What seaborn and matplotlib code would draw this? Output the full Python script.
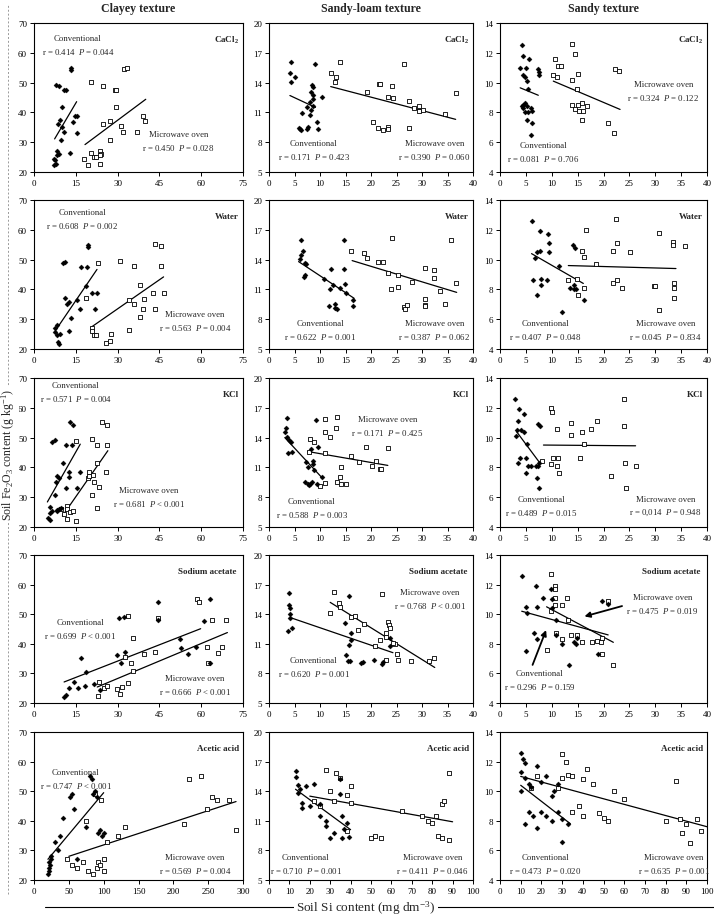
import matplotlib
matplotlib.use("Agg")
import matplotlib.pyplot as plt
from matplotlib.lines import Line2D
import seaborn as sns

# ---------------- data ----------------
COL_TITLES = ["Clayey texture", "Sandy-loam texture", "Sandy texture"]
EXTRACTANTS = ["CaCl$_\\mathbf{2}$", "Water", "KCl", "Sodium acetate", "Acetic acid"]

# Row 1 : CaCl2
CLAY_CACL2_CONV_X = [7.2, 7.8, 7.2, 8.1, 7.5, 9.0, 8.1, 7.8, 9.0, 10.8, 11.4, 10.2, 9.3, 8.6, 10.2, 10.8, 9.6, 13.2, 13.2, 14.6, 15.3, 14.1, 15.3, 12.9]
CLAY_CACL2_CONV_Y = [22.2, 22.8, 24.4, 25.6, 24.0, 26.0, 27.2, 49.1, 48.7, 47.6, 47.6, 41.7, 37.4, 36.1, 35.2, 33.3, 30.6, 55.0, 54.2, 38.7, 38.7, 36.9, 33.1, 26.3]
CLAY_CACL2_MW_X = [20.4, 24.6, 29.0, 29.6, 29.3, 27.3, 24.6, 31.1, 32.1, 36.9, 27.1, 39.2, 39.9, 32.3, 33.3, 18.0, 19.4, 20.4, 21.4, 22.2, 23.6, 24.0, 23.8, 23.6]
CLAY_CACL2_MW_Y = [50.2, 48.9, 47.6, 47.6, 41.7, 37.2, 36.1, 35.3, 33.3, 33.3, 30.8, 38.9, 37.0, 54.4, 55.0, 24.4, 22.2, 26.4, 25.0, 25.0, 27.2, 26.1, 25.6, 22.8]
CLAY_CACL2_CONV_LINE = [(7.4, 15.3), (31.1, 43.6)]
CLAY_CACL2_MW_LINE = [(18.3, 40.1), (29.2, 44.4)]

LOAM_CACL2_CONV_X = [4.4, 4.1, 5.1, 4.3, 9.1, 8.4, 8.7, 8.3, 8.6, 8.7, 10.4, 8.1, 7.4, 8.6, 8.3, 8.1, 6.4, 9.4, 9.7, 7.7, 7.5, 6.1, 6.2, 5.9]
LOAM_CACL2_CONV_Y = [16.1, 15.0, 14.6, 14.1, 15.9, 13.8, 13.6, 13.1, 12.8, 12.3, 12.6, 12.0, 11.5, 11.6, 11.2, 10.7, 10.9, 10.0, 9.3, 9.5, 9.3, 9.3, 9.2, 9.4]
LOAM_CACL2_MW_X = [12.1, 14.0, 13.2, 12.9, 19.3, 21.5, 21.8, 24.1, 23.3, 24.3, 26.4, 27.4, 28.4, 29.5, 29.5, 30.1, 34.6, 36.6, 20.3, 21.3, 22.3, 23.4, 23.4, 27.4]
LOAM_CACL2_MW_Y = [15.0, 16.1, 14.6, 14.1, 13.1, 13.9, 13.9, 13.7, 12.6, 12.4, 15.9, 12.1, 11.4, 11.6, 11.1, 11.2, 10.8, 13.0, 10.0, 9.4, 9.2, 9.5, 9.3, 9.4]
LOAM_CACL2_CONV_LINE = [(4.1, 9.1), (12.7, 11.5)]
LOAM_CACL2_MW_LINE = [(12.1, 36.6), (13.6, 10.3)]

SAND_CACL2_CONV_X = [4.2, 4.5, 5.7, 3.9, 5.0, 4.5, 4.8, 5.3, 7.4, 7.5, 7.6, 5.5, 4.5, 4.9, 5.3, 4.8, 5.5, 5.9, 6.1, 5.3, 6.1, 6.0, 4.5, 4.2]
SAND_CACL2_CONV_Y = [12.5, 11.8, 11.6, 11.0, 11.0, 10.5, 10.4, 10.1, 10.9, 10.7, 10.5, 9.6, 8.5, 8.6, 8.4, 8.0, 8.0, 8.3, 8.1, 7.5, 7.3, 6.5, 8.3, 8.4]
SAND_CACL2_MW_X = [14.0, 14.5, 10.6, 11.2, 11.8, 10.3, 11.1, 14.0, 15.0, 14.9, 22.3, 23.0, 14.0, 15.0, 15.9, 16.9, 14.5, 15.3, 16.1, 15.8, 20.9, 22.0]
SAND_CACL2_MW_Y = [12.6, 11.9, 11.6, 11.1, 11.1, 10.5, 10.4, 10.2, 10.6, 9.6, 10.9, 10.8, 8.5, 8.5, 8.6, 8.4, 8.2, 8.1, 8.1, 7.5, 7.3, 6.6]
SAND_CACL2_CONV_LINE = [(3.9, 7.4), (9.65, 9.15)]
SAND_CACL2_MW_LINE = [(10.3, 23.2), (10.1, 8.2)]

# Row 2 : Water
CLAY_WATER_CONV_X = [10.5, 11.3, 16.9, 19.1, 19.3, 19.4, 18.8, 20.9, 22.6, 11.3, 12.5, 11.9, 15.5, 16.4, 22.0, 13.3, 12.5, 7.7, 7.7, 8.1, 9.5, 8.6, 8.9, 8.3]
CLAY_WATER_CONV_Y = [48.7, 49.2, 47.5, 47.5, 54.8, 54.3, 41.3, 38.8, 38.8, 37.1, 35.7, 35.2, 36.6, 33.3, 33.3, 30.4, 26.2, 27.0, 25.8, 24.7, 25.1, 22.5, 21.7, 27.9]
CLAY_WATER_MW_X = [22.9, 30.7, 35.8, 45.5, 43.4, 45.6, 38.1, 39.6, 42.6, 46.5, 34.0, 35.8, 39.2, 43.4, 37.9, 34.2, 20.9, 20.9, 21.5, 22.3, 26.0, 27.4, 27.8, 18.8]
CLAY_WATER_MW_Y = [48.7, 49.4, 47.8, 47.9, 55.2, 54.5, 41.6, 36.9, 38.9, 38.9, 36.3, 35.2, 33.5, 33.5, 30.7, 26.5, 27.1, 26.2, 24.7, 24.7, 22.0, 22.8, 25.1, 37.2]
CLAY_WATER_CONV_LINE = [(7.7, 22.6), (26.2, 46.7)]
CLAY_WATER_MW_LINE = [(20.5, 46.5), (27.3, 44.2)]

LOAM_WATER_CONV_X = [6.3, 6.1, 6.3, 6.6, 7.1, 7.3, 7.1, 6.9, 10.7, 12.1, 11.9, 12.6, 13.9, 14.7, 14.8, 14.9, 15.1, 16.5, 16.5, 11.7, 13.0, 13.0, 13.3]
LOAM_WATER_CONV_Y = [16.0, 14.1, 14.5, 14.9, 13.7, 13.6, 12.4, 12.2, 12.0, 13.1, 11.0, 11.4, 11.1, 16.0, 13.1, 11.5, 10.6, 9.9, 9.3, 9.3, 9.5, 9.1, 9.0]
LOAM_WATER_MW_X = [16.1, 18.7, 19.3, 21.3, 22.3, 24.1, 23.3, 25.3, 24.0, 25.3, 28.1, 30.6, 32.4, 32.4, 33.5, 35.6, 36.7, 30.6, 30.6, 30.6, 34.6, 26.5, 27.1, 26.6]
LOAM_WATER_MW_Y = [14.9, 14.7, 14.2, 13.8, 13.8, 16.2, 12.7, 12.4, 11.0, 11.2, 11.7, 13.2, 13.0, 12.1, 10.8, 16.0, 11.6, 10.0, 9.4, 9.3, 9.5, 9.2, 9.4, 9.0]
LOAM_WATER_CONV_LINE = [(5.8, 16.7), (13.8, 10.1)]
LOAM_WATER_MW_LINE = [(16.3, 36.8), (13.9, 10.7)]

SAND_WATER_CONV_X = [6.1, 7.7, 9.2, 9.5, 9.5, 7.8, 7.1, 6.8, 11.4, 14.1, 14.5, 6.4, 7.9, 7.9, 9.0, 7.1, 11.9, 14.3, 14.7, 14.3, 13.5, 16.3]
SAND_WATER_CONV_Y = [12.6, 11.9, 11.7, 11.1, 10.5, 10.6, 10.5, 10.1, 9.6, 11.0, 10.8, 8.6, 8.7, 8.3, 8.6, 7.6, 6.5, 8.3, 8.0, 8.0, 8.1, 7.3]
SAND_WATER_MW_X = [22.5, 16.7, 22.7, 21.9, 25.2, 15.8, 16.2, 18.5, 30.7, 33.4, 33.4, 35.7, 13.1, 14.8, 15.0, 16.2, 21.9, 22.6, 23.5, 29.8, 30.0, 33.6, 33.6, 33.6, 30.7]
SAND_WATER_MW_Y = [12.7, 12.0, 11.1, 10.6, 10.5, 10.6, 10.2, 9.7, 11.8, 11.2, 11.0, 10.9, 8.6, 8.7, 7.6, 8.1, 8.4, 8.6, 8.1, 8.2, 8.2, 8.4, 8.1, 7.4, 6.6]
SAND_WATER_CONV_LINE = [(6.1, 16.1), (10.4, 8.4)]
SAND_WATER_MW_LINE = [(13.2, 34.0), (9.6, 9.4)]

# Row 3 : KCl
CLAY_KCL_CONV_X = [6.6, 7.6, 12.9, 13.9, 11.4, 13.5, 10.5, 12.7, 16.6, 8.1, 9.0, 7.8, 12.5, 11.4, 15.3, 7.6, 9.6, 8.8, 8.1, 6.6, 5.7, 5.2, 5.7, 5.8, 8.4]
CLAY_KCL_CONV_Y = [48.6, 49.2, 55.2, 54.3, 47.6, 47.6, 41.4, 38.6, 38.6, 37.2, 36.3, 35.2, 36.8, 33.0, 33.0, 30.7, 26.5, 26.2, 25.7, 25.4, 24.8, 22.9, 22.2, 26.8, 25.4]
CLAY_KCL_MW_X = [15.1, 20.8, 22.7, 24.3, 26.3, 26.3, 22.7, 19.6, 19.5, 19.9, 21.1, 21.7, 23.5, 25.9, 20.8, 22.5, 12.0, 12.0, 9.6, 12.9, 13.9, 10.8, 12.0, 15.1]
CLAY_KCL_MW_Y = [48.7, 49.4, 47.6, 55.4, 54.3, 47.6, 41.4, 38.6, 36.4, 37.2, 37.4, 35.2, 33.5, 38.6, 30.8, 26.5, 27.1, 25.9, 25.9, 25.0, 25.4, 24.3, 22.6, 22.0]
CLAY_KCL_CONV_LINE = [(4.8, 16.6), (28.4, 47.8)]
CLAY_KCL_MW_LINE = [(10.2, 26.5), (23.7, 45.6)]

LOAM_KCL_CONV_X = [3.5, 3.3, 3.1, 3.6, 4.0, 4.3, 3.8, 4.5, 9.3, 9.6, 8.3, 7.3, 8.7, 8.7, 7.6, 8.8, 10.3, 7.6, 7.8, 8.1, 8.5, 9.5, 7.1]
LOAM_KCL_CONV_Y = [16.0, 15.0, 14.6, 14.1, 13.8, 13.6, 12.4, 12.6, 15.8, 13.1, 12.9, 11.5, 11.6, 11.3, 11.0, 10.7, 10.0, 9.3, 9.2, 9.3, 9.5, 9.3, 9.5]
LOAM_KCL_MW_X = [11.0, 13.3, 11.0, 13.1, 12.0, 8.0, 8.9, 7.9, 19.1, 23.3, 11.0, 16.1, 17.7, 20.1, 21.0, 21.7, 21.9, 14.1, 14.0, 13.3, 14.2, 15.1, 11.0, 10.0]
LOAM_KCL_MW_Y = [15.9, 16.1, 14.6, 15.0, 14.1, 13.9, 13.6, 12.6, 13.1, 13.0, 12.4, 12.1, 11.5, 11.1, 11.6, 10.8, 10.8, 11.0, 10.0, 9.5, 9.3, 9.3, 9.4, 9.1]
LOAM_KCL_CONV_LINE = [(3.1, 10.5), (14.0, 9.9)]
LOAM_KCL_MW_LINE = [(7.6, 23.3), (12.6, 11.2)]

SAND_KCL_CONV_X = [2.9, 3.7, 3.5, 4.6, 3.2, 4.0, 4.6, 3.1, 5.3, 7.4, 7.7, 3.9, 3.4, 5.1, 5.5, 6.0, 6.9, 7.3, 5.1, 7.1, 7.5, 7.5]
SAND_KCL_CONV_Y = [12.6, 11.9, 11.1, 11.6, 10.5, 10.5, 10.4, 10.1, 9.6, 10.9, 10.8, 8.6, 8.3, 8.6, 8.1, 8.1, 8.1, 8.1, 7.6, 7.3, 6.6, 8.3]
SAND_KCL_MW_X = [9.8, 10.1, 11.1, 13.8, 13.8, 15.8, 16.3, 17.5, 18.7, 23.9, 23.9, 8.2, 10.3, 11.2, 9.8, 11.1, 11.4, 15.4, 24.1, 26.2, 21.5, 24.3]
SAND_KCL_MW_Y = [12.0, 11.7, 10.6, 11.0, 10.2, 10.4, 9.6, 10.6, 11.1, 12.6, 10.8, 8.4, 8.6, 8.6, 8.2, 8.1, 7.6, 8.6, 8.3, 8.1, 7.4, 6.6]
SAND_KCL_CONV_LINE = [(3.2, 7.7), (10.4, 8.3)]
SAND_KCL_MW_LINE = [(8.4, 26.2), (9.5, 9.45)]

# Row 4 : Sodium acetate
CLAY_NAAC_CONV_X = [10.8, 11.4, 12.6, 14.4, 15.8, 17.0, 18.2, 18.5, 21.5, 23.7, 29.9, 30.5, 32.3, 32.7, 31.1, 44.5, 44.5, 52.4, 52.9, 55.3, 58.0, 61.0, 63.2, 63.2]
CLAY_NAAC_CONV_Y = [22.0, 22.7, 25.2, 27.1, 24.9, 35.1, 25.7, 30.6, 26.5, 24.5, 36.3, 48.6, 49.1, 37.1, 33.4, 54.2, 47.9, 41.6, 38.7, 36.7, 38.8, 47.7, 55.0, 33.4]
CLAY_NAAC_MW_X = [23.1, 23.3, 25.1, 26.1, 29.9, 30.7, 31.7, 32.5, 33.7, 34.7, 35.6, 35.6, 39.5, 43.4, 44.5, 58.4, 59.2, 64.0, 62.2, 62.4, 66.0, 67.6, 69.0, 33.7]
CLAY_NAAC_MW_Y = [22.4, 27.2, 25.2, 25.7, 24.6, 22.9, 25.4, 35.5, 26.9, 33.4, 41.8, 30.8, 36.4, 37.3, 48.8, 55.2, 54.2, 48.0, 38.9, 33.6, 37.0, 39.0, 47.9, 49.3]
CLAY_NAAC_CONV_LINE = [(10.8, 59.8), (27.1, 45.1)]
CLAY_NAAC_MW_LINE = [(22.7, 69.4), (25.4, 43.8)]

LOAM_NAAC_CONV_X = [4.0, 4.0, 4.1, 4.1, 4.1, 4.5, 3.8, 15.6, 14.9, 16.1, 16.1, 15.7, 15.1, 15.5, 15.8, 18.0, 18.5, 20.5, 22.3, 22.1, 23.8, 23.7]
LOAM_NAAC_CONV_Y = [16.1, 14.9, 14.6, 14.0, 13.6, 12.6, 12.3, 15.8, 13.1, 12.1, 11.4, 10.9, 9.9, 9.3, 9.3, 9.1, 9.2, 9.4, 9.2, 9.0, 11.6, 10.8]
LOAM_NAAC_MW_X = [12.8, 13.8, 14.0, 11.9, 16.0, 16.9, 18.7, 22.1, 23.3, 23.5, 23.8, 22.9, 22.9, 21.8, 17.5, 20.7, 24.8, 25.1, 25.3, 27.9, 31.3, 32.3, 23.0, 24.3]
LOAM_NAAC_MW_Y = [16.2, 15.1, 14.7, 14.1, 13.7, 13.8, 13.0, 16.0, 13.2, 12.9, 12.6, 12.1, 11.7, 11.4, 12.4, 10.8, 11.0, 10.0, 9.4, 9.3, 9.3, 9.6, 9.4, 11.1]
LOAM_NAAC_CONV_LINE = [(4.5, 24.3), (13.6, 10.1)]
LOAM_NAAC_MW_LINE = [(12.0, 32.5), (15.2, 8.6)]

SAND_NAAC_CONV_X = [4.2, 6.9, 9.8, 8.4, 10.0, 5.0, 7.1, 10.0, 5.3, 10.8, 6.6, 7.1, 10.8, 11.9, 14.3, 14.6, 14.9, 19.0, 19.8, 20.8, 13.4, 5.0]
SAND_NAAC_CONV_Y = [12.6, 11.9, 11.7, 11.1, 11.0, 10.5, 10.5, 10.4, 10.1, 9.6, 8.7, 8.3, 8.6, 8.0, 8.1, 8.0, 8.4, 7.3, 10.9, 10.7, 6.6, 7.5]
SAND_NAAC_MW_X = [9.8, 10.7, 10.7, 10.7, 13.0, 11.9, 10.7, 9.8, 13.1, 20.8, 10.8, 11.9, 13.8, 14.9, 15.8, 17.8, 18.8, 19.6, 19.8, 19.8, 21.9, 9.0]
SAND_NAAC_MW_Y = [12.7, 11.9, 11.7, 11.1, 11.1, 10.6, 10.6, 10.2, 9.6, 10.9, 8.7, 8.3, 8.6, 8.6, 8.1, 8.1, 8.2, 8.1, 8.4, 7.3, 6.6, 7.6]
SAND_NAAC_CONV_LINE = [(4.2, 20.9), (10.2, 8.6)]
SAND_NAAC_MW_LINE = [(9.0, 21.9), (10.5, 8.1)]

# Row 5 : Acetic acid
CLAY_HAC_CONV_X = [20, 21, 22, 23, 22, 24, 25, 30, 35, 38, 42, 52, 55, 57, 75, 80, 83, 85, 88, 90, 92, 95, 98, 100, 62]
CLAY_HAC_CONV_Y = [22, 23, 24, 25, 26, 27, 28, 33, 30, 35, 41, 48, 49, 44, 38, 55, 54, 49, 50, 48, 36, 37, 35, 36, 27]
CLAY_HAC_MW_X = [48, 55, 62, 70, 78, 85, 90, 92, 95, 100, 100, 75, 88, 96, 105, 120, 130, 215, 222, 240, 248, 255, 262, 280, 290]
CLAY_HAC_MW_Y = [27, 25, 24, 26, 23, 22, 24, 26, 25, 23, 27, 40, 49, 47, 33, 35, 38, 39, 54, 55, 44, 48, 47, 47, 37]
CLAY_HAC_CONV_LINE = [(20, 100), (27.0, 49.5)]
CLAY_HAC_MW_LINE = [(50, 290), (28.0, 46.5)]

LOAM_HAC_CONV_X = [13, 13, 14, 15, 14, 16, 16, 18, 22, 25, 28, 28, 30, 32, 35, 35, 36, 38, 37, 39, 36, 20, 25]
LOAM_HAC_CONV_Y = [16.0, 15.4, 14.6, 14.2, 13.8, 12.8, 12.3, 14.5, 14.7, 12.7, 11.0, 10.5, 9.3, 9.8, 15.2, 13.7, 11.5, 10.8, 10.2, 9.4, 9.3, 12.5, 11.5]
LOAM_HAC_MW_X = [28, 33, 35, 30, 32, 38, 40, 22, 25, 50, 52, 55, 65, 75, 78, 80, 82, 85, 86, 88, 85, 88, 83, 40, 38]
LOAM_HAC_MW_Y = [16.1, 15.8, 15.3, 14.0, 13.0, 13.6, 14.5, 13.0, 12.5, 9.3, 9.5, 9.3, 12.0, 11.5, 11.0, 10.8, 11.5, 12.7, 13.0, 15.8, 9.3, 9.1, 9.5, 12.8, 10.0]
LOAM_HAC_CONV_LINE = [(13, 40), (14.2, 10.1)]
LOAM_HAC_MW_LINE = [(20, 90), (13.5, 10.9)]

SAND_HAC_CONV_X = [10, 11, 12, 10, 12, 14, 15, 10, 18, 20, 22, 25, 14, 16, 12, 20, 22, 25, 28, 30, 33, 30, 26, 28, 18]
SAND_HAC_CONV_Y = [12.6, 12.2, 11.9, 11.3, 10.9, 10.5, 10.3, 10.0, 11.7, 10.6, 11.0, 9.7, 8.6, 8.3, 7.8, 8.6, 8.3, 8.0, 8.6, 8.1, 7.8, 6.6, 10.0, 10.5, 7.5]
SAND_HAC_MW_X = [30, 32, 33, 30, 35, 28, 40, 42, 45, 48, 40, 50, 38, 55, 60, 80, 85, 87, 88, 90, 92, 95, 97, 52, 35, 15, 18]
SAND_HAC_MW_Y = [12.5, 12.0, 11.1, 10.9, 11.0, 10.2, 10.8, 11.5, 10.5, 8.5, 8.3, 8.2, 9.0, 10.0, 9.5, 8.0, 10.7, 8.1, 7.2, 7.8, 6.5, 8.1, 7.3, 8.0, 8.6, 10.2, 11.0]
SAND_HAC_CONV_LINE = [(10, 34), (10.4, 7.8)]
SAND_HAC_MW_LINE = [(10, 100), (11.0, 7.6)]

# statistics text (row by row, column by column)
CONV_STATS = [
    ["r = 0.414  $\\mathit{P}$ = 0.044", "r = 0.171  $\\mathit{P}$ = 0.423", "r = 0.081  $\\mathit{P}$ = 0.706"],
    ["r = 0.608  $\\mathit{P}$ = 0.002", "r = 0.622  $\\mathit{P}$ = 0.001", "r = 0.407  $\\mathit{P}$ = 0.048"],
    ["r = 0.571  $\\mathit{P}$ = 0.004", "r = 0.588  $\\mathit{P}$ = 0.003", "r = 0.489  $\\mathit{P}$ = 0.015"],
    ["r = 0.699  $\\mathit{P}$ < 0.001", "r = 0.620  $\\mathit{P}$ = 0.001", "r = 0.296  $\\mathit{P}$ = 0.159"],
    ["r = 0.747  $\\mathit{P}$ < 0.001", "r = 0.710  $\\mathit{P}$ = 0.001", "r = 0.473  $\\mathit{P}$ = 0.020"],
]
MW_STATS = [
    ["r = 0.450  $\\mathit{P}$ = 0.028", "r = 0.390  $\\mathit{P}$ = 0.060", "r = 0.324  $\\mathit{P}$ = 0.122"],
    ["r = 0.563  $\\mathit{P}$ = 0.004", "r = 0.387  $\\mathit{P}$ = 0.062", "r = 0.045  $\\mathit{P}$ = 0.834"],
    ["r = 0.681  $\\mathit{P}$ < 0.001", "r = 0.171  $\\mathit{P}$ = 0.425", "r = 0,014  $\\mathit{P}$ = 0.948"],
    ["r = 0.666  $\\mathit{P}$ < 0.001", "r = 0.768  $\\mathit{P}$ < 0.001", "r = 0.475  $\\mathit{P}$ = 0.019"],
    ["r = 0.569  $\\mathit{P}$ = 0.004", "r = 0.411  $\\mathit{P}$ = 0.046", "r = 0.635  $\\mathit{P}$ = 0.001"],
]

PANELS = [
    [(CLAY_CACL2_CONV_X, CLAY_CACL2_CONV_Y, CLAY_CACL2_MW_X, CLAY_CACL2_MW_Y, CLAY_CACL2_CONV_LINE, CLAY_CACL2_MW_LINE),
     (LOAM_CACL2_CONV_X, LOAM_CACL2_CONV_Y, LOAM_CACL2_MW_X, LOAM_CACL2_MW_Y, LOAM_CACL2_CONV_LINE, LOAM_CACL2_MW_LINE),
     (SAND_CACL2_CONV_X, SAND_CACL2_CONV_Y, SAND_CACL2_MW_X, SAND_CACL2_MW_Y, SAND_CACL2_CONV_LINE, SAND_CACL2_MW_LINE)],
    [(CLAY_WATER_CONV_X, CLAY_WATER_CONV_Y, CLAY_WATER_MW_X, CLAY_WATER_MW_Y, CLAY_WATER_CONV_LINE, CLAY_WATER_MW_LINE),
     (LOAM_WATER_CONV_X, LOAM_WATER_CONV_Y, LOAM_WATER_MW_X, LOAM_WATER_MW_Y, LOAM_WATER_CONV_LINE, LOAM_WATER_MW_LINE),
     (SAND_WATER_CONV_X, SAND_WATER_CONV_Y, SAND_WATER_MW_X, SAND_WATER_MW_Y, SAND_WATER_CONV_LINE, SAND_WATER_MW_LINE)],
    [(CLAY_KCL_CONV_X, CLAY_KCL_CONV_Y, CLAY_KCL_MW_X, CLAY_KCL_MW_Y, CLAY_KCL_CONV_LINE, CLAY_KCL_MW_LINE),
     (LOAM_KCL_CONV_X, LOAM_KCL_CONV_Y, LOAM_KCL_MW_X, LOAM_KCL_MW_Y, LOAM_KCL_CONV_LINE, LOAM_KCL_MW_LINE),
     (SAND_KCL_CONV_X, SAND_KCL_CONV_Y, SAND_KCL_MW_X, SAND_KCL_MW_Y, SAND_KCL_CONV_LINE, SAND_KCL_MW_LINE)],
    [(CLAY_NAAC_CONV_X, CLAY_NAAC_CONV_Y, CLAY_NAAC_MW_X, CLAY_NAAC_MW_Y, CLAY_NAAC_CONV_LINE, CLAY_NAAC_MW_LINE),
     (LOAM_NAAC_CONV_X, LOAM_NAAC_CONV_Y, LOAM_NAAC_MW_X, LOAM_NAAC_MW_Y, LOAM_NAAC_CONV_LINE, LOAM_NAAC_MW_LINE),
     (SAND_NAAC_CONV_X, SAND_NAAC_CONV_Y, SAND_NAAC_MW_X, SAND_NAAC_MW_Y, SAND_NAAC_CONV_LINE, SAND_NAAC_MW_LINE)],
    [(CLAY_HAC_CONV_X, CLAY_HAC_CONV_Y, CLAY_HAC_MW_X, CLAY_HAC_MW_Y, CLAY_HAC_CONV_LINE, CLAY_HAC_MW_LINE),
     (LOAM_HAC_CONV_X, LOAM_HAC_CONV_Y, LOAM_HAC_MW_X, LOAM_HAC_MW_Y, LOAM_HAC_CONV_LINE, LOAM_HAC_MW_LINE),
     (SAND_HAC_CONV_X, SAND_HAC_CONV_Y, SAND_HAC_MW_X, SAND_HAC_MW_Y, SAND_HAC_CONV_LINE, SAND_HAC_MW_LINE)],
]

Y_TICKS = [[20, 30, 40, 50, 60, 70], [5, 8, 11, 14, 17, 20], [4, 6, 8, 10, 12, 14]]
X_TICKS_TOP = [[0, 15, 30, 45, 60, 75], [0, 5, 10, 15, 20, 25, 30, 35, 40], [0, 5, 10, 15, 20, 25, 30, 35, 40]]
X_TICKS_BOTTOM = [[0, 50, 100, 150, 200, 250, 300], [0, 10, 20, 30, 40, 50, 60, 70, 80, 90, 100],
                  [0, 10, 20, 30, 40, 50, 60, 70, 80, 90, 100]]

# ---------------- layout (pixels) ----------------
W, H = 714, 920
COLS = [(34, 243), (269, 473), (500, 707)]
ROWS = [(24, 173), (201, 350), (379, 528), (556, 704), (733, 881)]

CONV_POS = [[(0.21, 0.85), (0.22, 0.145), (0.21, 0.135)],
            [(0.23, 0.875), (0.25, 0.13), (0.22, 0.13)],
            [(0.20, 0.905), (0.21, 0.125), (0.20, 0.14)],
            [(0.22, 0.50), (0.22, 0.24), (0.19, 0.155)],
            [(0.20, 0.685), (0.18, 0.11), (0.22, 0.11)]]
MW_POS = [[(0.69, 0.21), (0.81, 0.145), (0.79, 0.545)],
          [(0.77, 0.19), (0.81, 0.13), (0.80, 0.13)],
          [(0.55, 0.20), (0.58, 0.68), (0.80, 0.14)],
          [(0.77, 0.12), (0.79, 0.70), (0.785, 0.67)],
          [(0.77, 0.11), (0.80, 0.11), (0.84, 0.11)]]

sns.set_style("ticks")
plt.rcParams["font.family"] = ["Liberation Serif", "DejaVu Serif"]
plt.rcParams["mathtext.fontset"] = "custom"
plt.rcParams["mathtext.rm"] = "Liberation Serif"
plt.rcParams["mathtext.it"] = "Liberation Serif:italic"
plt.rcParams["mathtext.bf"] = "Liberation Serif:bold"

fig = plt.figure(figsize=(W / 100, H / 100), dpi=100)
FS = 6.5
AFS = 6.3

for r in range(5):
    for c in range(3):
        l, rr = COLS[c]
        t, b = ROWS[r]
        ax = fig.add_axes([l / W, 1 - b / H, (rr - l) / W, (b - t) / H])
        cx, cy, mx, my, cl, ml = PANELS[r][c]
        sns.scatterplot(x=mx, y=my, marker="s", s=8, color="white", edgecolor="black",
                        linewidth=0.6, ax=ax, legend=False, zorder=3)
        sns.scatterplot(x=cx, y=cy, marker="D", s=7, color="black", edgecolor="black",
                        linewidth=0.2, ax=ax, legend=False, zorder=4)
        sns.lineplot(x=list(cl[0]), y=list(cl[1]), color="black", lw=0.9, ax=ax,
                     legend=False, estimator=None, sort=False, zorder=2)
        sns.lineplot(x=list(ml[0]), y=list(ml[1]), color="black", lw=0.9, ax=ax,
                     legend=False, estimator=None, sort=False, zorder=2)
        xt = X_TICKS_BOTTOM[c] if r == 4 else X_TICKS_TOP[c]
        yt = Y_TICKS[c]
        ax.set_xlim(xt[0], xt[-1])
        ax.set_ylim(yt[0], yt[-1])
        ax.set_xticks(xt)
        ax.set_yticks(yt)
        ax.tick_params(axis="both", direction="out", length=3, width=0.7, labelsize=FS, pad=2, colors="black")
        for sp in ax.spines.values():
            sp.set_visible(True)
            sp.set_linewidth(0.8)
            sp.set_color("black")
        ax.set_xlabel("")
        ax.set_ylabel("")
        ax.text(*CONV_POS[r][c], "Conventional\n" + CONV_STATS[r][c], transform=ax.transAxes,
                ha="center", va="center", fontsize=AFS, linespacing=1.5)
        ax.text(*MW_POS[r][c], "Microwave oven\n" + MW_STATS[r][c], transform=ax.transAxes,
                ha="center", va="center", fontsize=AFS, linespacing=1.5)
        ax.text(0.98 if r != 3 else 0.97, 0.89, EXTRACTANTS[r], transform=ax.transAxes,
                ha="right", va="center", fontsize=FS, fontweight="bold")
        if r == 3 and c == 2:
            ax.annotate("", xy=(9.1, 9.1), xytext=(6.1, 6.4),
                        arrowprops=dict(arrowstyle="-|>", color="black", lw=1.3, mutation_scale=8))
            ax.annotate("", xy=(15.8, 9.8), xytext=(24.1, 10.6),
                        arrowprops=dict(arrowstyle="-|>", color="black", lw=1.3, mutation_scale=8))
        if r == 0:
            fig.text((l + rr) / 2 / W, 1 - 9 / H, COL_TITLES[c], ha="center", va="center",
                     fontsize=8.6, fontweight="bold")

# left dotted guide and y label
fig.add_artist(Line2D([8 / W, 8 / W], [1 - 895 / H, 1 - 6 / H], color="#9a9a9a", lw=0.7,
                      linestyle=(0, (2, 2))))
fig.text(8 / W, 1 - 455 / H, "Soil Fe$_2$O$_3$ content (g kg$^{-1}$)", rotation=90,
         ha="center", va="center", fontsize=8.6,
         bbox=dict(facecolor="white", edgecolor="none", pad=1.5))

# bottom line and x label
fig.add_artist(Line2D([45 / W, 1.0], [1 - 908 / H, 1 - 908 / H], color="black", lw=0.8))
fig.text(366 / W, 1 - 908 / H, "Soil Si content (mg dm$^{-3}$)", ha="center", va="center",
         fontsize=9.5, bbox=dict(facecolor="white", edgecolor="none", pad=2))

fig.savefig("out.png", dpi=100, facecolor="white")
